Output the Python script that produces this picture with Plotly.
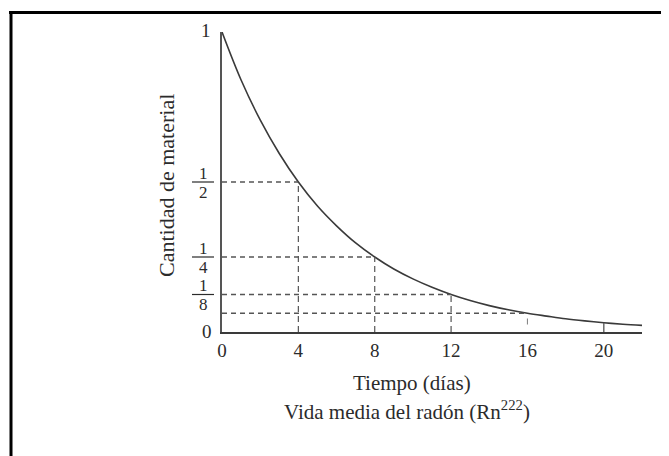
import plotly.graph_objects as go

# ---- data ----
dias = [0, 1, 2, 3, 4, 5, 6, 7, 8, 9, 10, 11, 12, 13, 14, 15, 16, 17, 18, 19, 20, 21, 22]
cantidad = [1.0, 0.84, 0.707, 0.595, 0.5, 0.42, 0.354, 0.297, 0.25, 0.21, 0.177, 0.149,
            0.125, 0.105, 0.088, 0.074, 0.0625, 0.053, 0.044, 0.037, 0.031, 0.026, 0.022]
x_ticks = [0, 4, 8, 12, 16, 20]
# half-life guide points (time, amount)
guia_t = [4, 8, 12, 16]
guia_y = [0.5, 0.25, 0.125, 0.0625]
frac_vals = [0.5, 0.25, 0.125]
frac_num = ["1", "1", "1"]
frac_den = ["2", "4", "8"]
marca_20 = (20, 0.031)

OFF = 8  # page body margin
WIN_W, WIN_H = 669, 456
W, H = WIN_W - OFF, WIN_H - OFF
# plot area in window pixels: x 222..642, y 32..332
L = 222 - OFF
R = WIN_W - 642
T = 32 - OFF
B = WIN_H - 332
PW, PH = W - L - R, H - T - B

def px(xw):
    return (xw - OFF - L) / PW

def py(yw):
    return (H - B - (yw - OFF)) / PH

FONT = "Liberation Serif, Times New Roman, serif"
INK = "#2b2b2b"
DASH = "#555555"

fig = go.Figure()
fig.add_trace(go.Scatter(x=dias, y=cantidad, mode="lines",
                         line=dict(color="#3a3a3a", width=1.6, shape="spline"),
                         showlegend=False, hoverinfo="skip"))

shapes = []
for t, v in zip(guia_t, guia_y):
    shapes.append(dict(type="line", xref="x", yref="y", x0=0, x1=t, y0=v, y1=v,
                       line=dict(color=DASH, width=1.3, dash="5px,4px")))
for t, v in zip(guia_t[:3], guia_y[:3]):
    shapes.append(dict(type="line", xref="x", yref="y", x0=t, x1=t, y0=0, y1=v,
                       line=dict(color=DASH, width=1.2, dash="6px,4px")))
shapes.append(dict(type="line", xref="x", yref="y", x0=guia_t[3], x1=guia_t[3],
                   y0=0.025, y1=0.045, line=dict(color="#888888", width=1.1)))
shapes.append(dict(type="line", xref="x", yref="y", x0=marca_20[0], x1=marca_20[0],
                   y0=0, y1=marca_20[1], line=dict(color="#555555", width=1.3)))
for v in frac_vals:
    shapes.append(dict(type="line", xref="paper", yref="y", x0=px(192), x1=px(214),
                       y0=v, y1=v, line=dict(color=INK, width=1.2)))
# outer frame (top and left edges)
shapes.append(dict(type="line", xref="paper", yref="paper", x0=px(9), x1=px(WIN_W + 5),
                   y0=py(12.5), y1=py(12.5), line=dict(color="black", width=3)))
shapes.append(dict(type="line", xref="paper", yref="paper", x0=px(11), x1=px(11),
                   y0=py(11), y1=py(WIN_H + 5), line=dict(color="black", width=3)))

TF = dict(family=FONT, size=19, color=INK)
FF = dict(family=FONT, size=17, color=INK)
C = dict(showarrow=False, xanchor="center", yanchor="middle")
annotations = []
for v, n, d in zip(frac_vals, frac_num, frac_den):
    annotations.append(dict(xref="paper", yref="y", x=px(203), y=v, text=n,
                            yshift=9, font=FF, **C))
    annotations.append(dict(xref="paper", yref="y", x=px(203), y=v, text=d,
                            yshift=-10, font=FF, **C))
annotations.append(dict(xref="paper", yref="y", x=px(206), y=1, text="1",
                        yshift=2, font=TF, **C))
annotations.append(dict(xref="paper", yref="y", x=px(207), y=0, text="0",
                        yshift=1, font=TF, **C))
annotations.append(dict(xref="paper", yref="paper", x=px(166), y=py(186),
                        text="Cantidad de material", textangle=-90,
                        font=dict(family=FONT, size=22, color=INK), **C))
annotations.append(dict(xref="paper", yref="paper", x=px(412), y=py(383),
                        text="Tiempo (días)",
                        font=dict(family=FONT, size=21, color=INK), **C))
annotations.append(dict(xref="paper", yref="paper", x=px(407), y=py(410),
                        text="Vida media del radón (Rn<sup>222</sup>)",
                        font=dict(family=FONT, size=21, color=INK), **C))

fig.update_layout(
    width=W, height=H,
    margin=dict(l=L, r=R, t=T, b=B),
    paper_bgcolor="white", plot_bgcolor="white",
    shapes=shapes, annotations=annotations,
    xaxis=dict(range=[0, 22], tickvals=x_ticks, ticktext=[str(v) for v in x_ticks],
               showgrid=False, zeroline=False, showline=True, linecolor="#3a3a3a",
               linewidth=2, ticks="", tickfont=TF),
    yaxis=dict(range=[0, 1], showgrid=False, zeroline=False, showline=True,
               linecolor="#555555", linewidth=1.5, ticks="", showticklabels=False),
)

fig.write_html("out.html")
